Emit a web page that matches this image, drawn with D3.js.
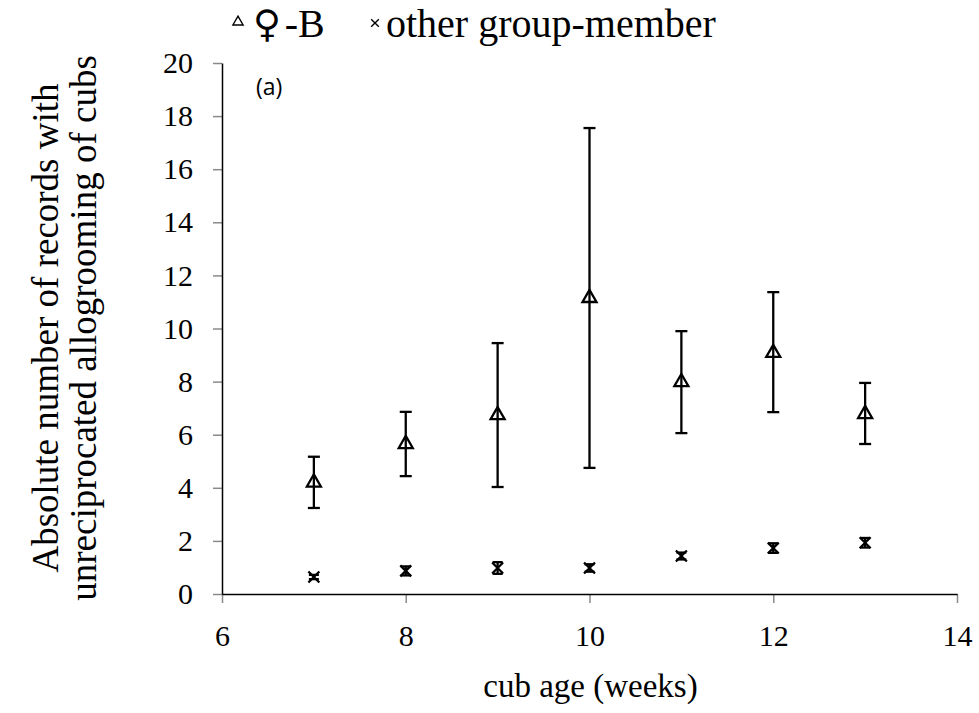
<!DOCTYPE html>
<html>
<head>
<meta charset="utf-8">
<script src="https://cdn.jsdelivr.net/npm/d3@7"></script>
<style>
  body { margin: 0; background: #fff; }
</style>
</head>
<body>
<div class="container"></div>
<script>
const WIDTH = 979;
const HEIGHT = 713;
const MARGIN = {left: 222, right: 22, top: 63, bottom: 119};
const SERIF = '"Liberation Serif", serif';

// cub age (weeks)
var weeks = [7, 8, 9, 10, 11, 12, 13];
// female B: mean, lower and upper error bar ends
var femaleMean = [4.2, 5.65, 6.74, 11.15, 7.98, 9.08, 6.78];
var femaleLow = [3.24, 4.44, 4.03, 4.75, 6.06, 6.85, 5.65];
var femaleHigh = [5.17, 6.86, 9.45, 17.55, 9.9, 11.37, 7.95];
// other group-member
var otherMean = [0.64, 0.87, 0.98, 0.98, 1.43, 1.73, 1.93];
var otherLow = [0.56, 0.7, 0.76, 0.84, 1.3, 1.55, 1.75];
var otherHigh = [0.72, 1.04, 1.2, 1.12, 1.56, 1.91, 2.11];

var xTicks = [6, 8, 10, 12, 14];
var yTicks = [0, 2, 4, 6, 8, 10, 12, 14, 16, 18, 20];

var translate = function(x, y) {
    return `translate(${x},${y})`;
};

var toRows = function(mean, low, high) {
    return weeks.map((w, i) => ({x: w, y: mean[i], lo: low[i], hi: high[i]}));
};

var styleAxis = function(g) {
    g.attr('font-family', null).attr('font-size', null);
    g.selectAll('.tick text')
        .attr('fill', '#000')
        .style('font-family', SERIF)
        .style('font-size', '30px');
    g.selectAll('.tick line').attr('stroke', '#8a8a8a').attr('stroke-width', 1.5);
    g.select('.domain').attr('stroke', '#000').attr('stroke-width', 1.5).raise();
};

var drawErrorBars = function(g, xScale, yScale, rows, capHalf) {
    var bars = g.selectAll(null).data(rows).enter().append('g')
        .attr('stroke', '#000')
        .attr('stroke-width', 2.3);
    bars.append('line')
        .attr('x1', d => xScale(d.x)).attr('x2', d => xScale(d.x))
        .attr('y1', d => yScale(d.lo)).attr('y2', d => yScale(d.hi));
    bars.append('line')
        .attr('x1', d => xScale(d.x) - capHalf).attr('x2', d => xScale(d.x) + capHalf)
        .attr('y1', d => yScale(d.lo)).attr('y2', d => yScale(d.lo));
    bars.append('line')
        .attr('x1', d => xScale(d.x) - capHalf).attr('x2', d => xScale(d.x) + capHalf)
        .attr('y1', d => yScale(d.hi)).attr('y2', d => yScale(d.hi));
};

var drawMarkers = function(g, xScale, yScale, rows, symbol) {
    g.selectAll(null).data(rows).enter().append('path')
        .attr('d', symbol)
        .attr('transform', d => translate(xScale(d.x), yScale(d.y)))
        .attr('fill', 'none')
        .attr('stroke', '#000')
        .attr('stroke-width', 2.3);
};

var showGraph = function() {
    var svg = d3.select('.container').append('svg')
        .attr('width', WIDTH)
        .attr('height', HEIGHT);

    let xScale = d3.scaleLinear()
        .domain([6, 14])
        .range([MARGIN.left, WIDTH - MARGIN.right]);

    let yScale = d3.scaleLinear()
        .domain([0, 20])
        .range([HEIGHT - MARGIN.bottom, MARGIN.top]);

    let xAxis = d3.axisBottom(xScale).tickValues(xTicks).tickSize(9).tickPadding(22).tickSizeOuter(0);
    let yAxis = d3.axisLeft(yScale).tickValues(yTicks).tickSize(9).tickPadding(20).tickSizeOuter(0);

    svg.append('g')
        .attr('transform', translate(0, HEIGHT - MARGIN.bottom))
        .call(xAxis)
        .call(styleAxis);

    svg.append('g')
        .attr('transform', translate(MARGIN.left, 0))
        .call(yAxis)
        .call(styleAxis);

    var triangle = d3.symbol().type(d3.symbolTriangle).size(85);
    var cross = d3.symbol().type(d3.symbolX).size(80);

    var femaleRows = toRows(femaleMean, femaleLow, femaleHigh);
    var otherRows = toRows(otherMean, otherLow, otherHigh);

    var plot = svg.append('g');
    drawErrorBars(plot, xScale, yScale, femaleRows, 6);
    drawMarkers(plot, xScale, yScale, femaleRows, triangle);
    drawErrorBars(plot, xScale, yScale, otherRows, 5);
    drawMarkers(plot, xScale, yScale, otherRows, cross);

    // panel letter
    svg.append('text')
        .attr('x', 256).attr('y', 95)
        .style('font-family', '"Open Sans", sans-serif')
        .style('font-size', '23px')
        .text('(a)');

    // axis titles
    svg.append('text')
        .attr('x', (MARGIN.left + WIDTH - MARGIN.right) / 2 + 1)
        .attr('y', 697)
        .attr('text-anchor', 'middle')
        .style('font-family', SERIF)
        .style('font-size', '33px')
        .text('cub age (weeks)');

    var yTitle = svg.append('text')
        .attr('transform', translate(0, 328) + ' rotate(-90)')
        .attr('text-anchor', 'middle')
        .style('font-family', SERIF)
        .style('font-size', '37px');
    yTitle.append('tspan').attr('x', 0).attr('y', 58).text('Absolute number of records with');
    yTitle.append('tspan').attr('x', 0).attr('y', 96).text('unreciprocated allogrooming of cubs');

    // legend
    var legend = svg.append('g').attr('transform', translate(0, 37));
    legend.append('path')
        .attr('d', d3.symbol().type(d3.symbolTriangle).size(45))
        .attr('transform', translate(238, -15))
        .attr('fill', 'none').attr('stroke', '#000').attr('stroke-width', 1.4);
    var fLabel = legend.append('text')
        .attr('x', 253).attr('y', 0)
        .style('font-family', SERIF)
        .style('font-size', '40px');
    fLabel.append('tspan').style('font-family', '"DejaVu Serif", serif').style('font-size', '38px').style('font-weight', 300).text('♀');
    fLabel.append('tspan').attr('dx', 4).text('-B');
    legend.append('path')
        .attr('d', d3.symbol().type(d3.symbolX).size(40))
        .attr('transform', translate(375, -14))
        .attr('fill', 'none').attr('stroke', '#000').attr('stroke-width', 1.4);
    legend.append('text')
        .attr('x', 386).attr('y', 0)
        .style('font-family', SERIF)
        .style('font-size', '40px')
        .text('other group-member');
};

window.onload = function() {
    showGraph();
};
</script>
</body>
</html>
